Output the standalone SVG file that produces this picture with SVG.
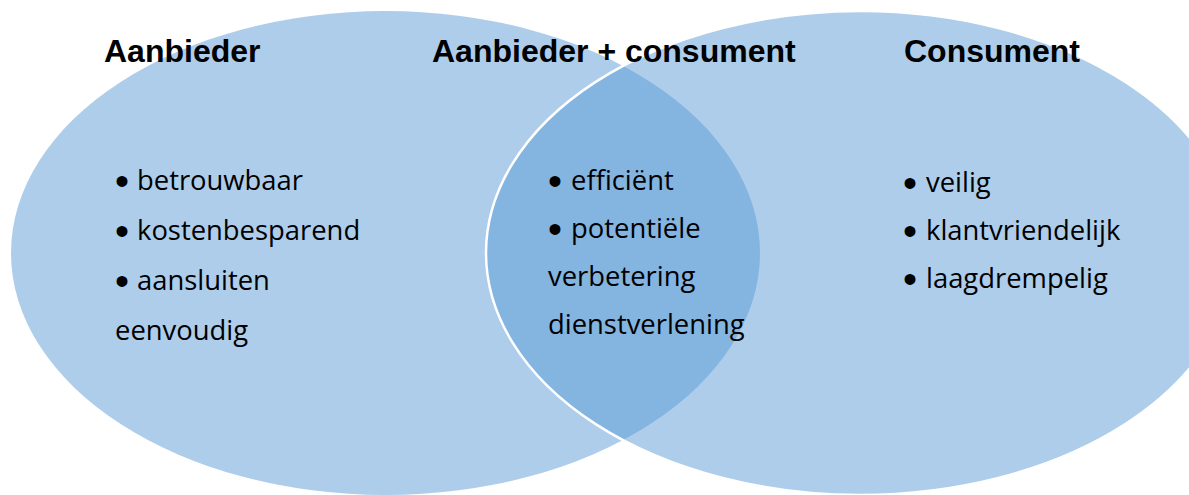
<svg xmlns="http://www.w3.org/2000/svg" width="1189" height="495" viewBox="0 0 1189 495">
  <style>
    .set { fill: #5B9BD5; fill-opacity: 0.5; }
    .set-edge { stroke: #FFFFFF; stroke-width: 2.5; }
    .head { font-family: "Liberation Sans", Arial, sans-serif; font-weight: bold; font-size: 32px; fill: #000000; }
    .item { font-family: "Open Sans", "Noto Sans", sans-serif; font-size: 27.4px; fill: #000000; }
    .blt { font-family: "Liberation Sans", Arial, sans-serif; font-size: 40px; }
  </style>
  <rect width="1189" height="495" fill="#FFFFFF"/>

  <!-- Left set: provider -->
  <g id="aanbieder">
    <ellipse class="set" cx="385.5" cy="253" rx="374.5" ry="242"/>
    <text class="head" x="104" y="62">Aanbieder</text>
    <text class="item" y="190"><tspan class="blt" x="115" dy="5">•</tspan><tspan x="137" dy="-5">betrouwbaar</tspan></text>
    <text class="item" y="240"><tspan class="blt" x="115" dy="5">•</tspan><tspan x="137" dy="-5">kostenbesparend</tspan></text>
    <text class="item" y="290"><tspan class="blt" x="115" dy="5">•</tspan><tspan x="137" dy="-5">aansluiten</tspan></text>
    <text class="item" x="115" y="340">eenvoudig</text>
  </g>

  <!-- Right set: consumer (drawn on top, white rim shows across the overlap) -->
  <g id="consument">
    <ellipse class="set set-edge" cx="860.5" cy="253" rx="374.5" ry="242"/>
    <text class="head" x="904" y="62">Consument</text>
    <text class="item" y="192"><tspan class="blt" x="903" dy="5">•</tspan><tspan x="926" dy="-5">veilig</tspan></text>
    <text class="item" y="240"><tspan class="blt" x="903" dy="5">•</tspan><tspan x="926" dy="-5">klantvriendelijk</tspan></text>
    <text class="item" y="288"><tspan class="blt" x="903" dy="5">•</tspan><tspan x="926" dy="-5">laagdrempelig</tspan></text>
  </g>

  <!-- Overlap: both -->
  <g id="aanbieder-consument">
    <text class="head" x="432" y="62">Aanbieder + consument</text>
    <text class="item" y="190"><tspan class="blt" x="548" dy="5">•</tspan><tspan x="571" dy="-5">efficiënt</tspan></text>
    <text class="item" y="238"><tspan class="blt" x="548" dy="5">•</tspan><tspan x="571" dy="-5">potentiële</tspan></text>
    <text class="item" x="548" y="286">verbetering</text>
    <text class="item" x="548" y="334">dienstverlening</text>
  </g>
</svg>
